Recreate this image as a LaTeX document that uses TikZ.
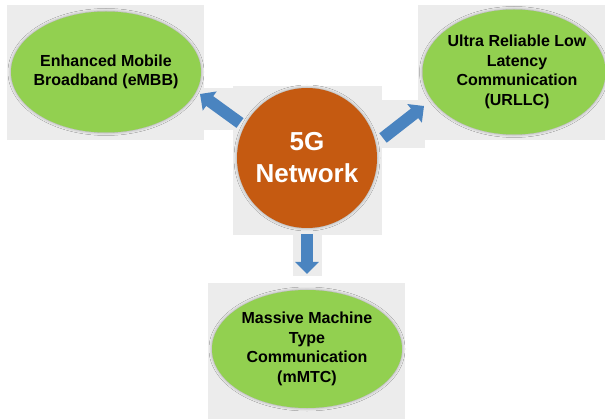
\documentclass[tikz,border=0pt]{standalone}
\usepackage{fontspec}
\setmainfont{Liberation Sans}
\usetikzlibrary{shapes.geometric,arrows.meta,shadows.blur}
\definecolor{leaf}{HTML}{92D050}
\definecolor{rust}{HTML}{C55A11}
\definecolor{steel}{HTML}{4A84C0}
\definecolor{panel}{HTML}{ECECEC}
\tikzset{
  panelbox/.style={fill=panel, draw=none},
  usecase/.style={ellipse, fill=leaf, draw=none, inner sep=0pt,
    blur shadow={shadow xshift=0pt, shadow yshift=0pt, shadow blur radius=3pt, shadow opacity=35}},
  caselabel/.style={align=center, text=black, inner sep=0pt,
    font=\bfseries\fontsize{16}{19.5}\selectfont},
  hub/.style={circle, fill=rust, draw=none, align=center, text=white,
    font=\bfseries\fontsize{26}{32}\selectfont, inner sep=0pt, minimum size=140pt,
    blur shadow={shadow xshift=0pt, shadow yshift=0pt, shadow blur radius=3pt, shadow opacity=35}},
  flow/.style={line width=12pt, draw=steel, -{Triangle[length=12pt,width=23pt]}}
}
\begin{document}
\begin{tikzpicture}[x=1pt,y=-1pt]
\useasboundingbox (0,0) rectangle (605,419);
\fill[white] (0,0) rectangle (605,419);
% panels
\fill[panelbox] (7,5) rectangle (204,140);
\fill[panelbox] (418,5) rectangle (605,140);
\fill[panelbox] (208,283) rectangle (405,419);
\fill[panelbox] (233,86) rectangle (382,235);
\fill[panelbox] (198,88) rectangle (245,130);
\fill[panelbox] (377,100) rectangle (425,148);
\fill[panelbox] (293,232) rectangle (322,276);
% nodes
\node[usecase, minimum width=190pt, minimum height=121pt] (embb) at (106,72) {};
\node[caselabel] (embbt) at (embb.center) {Enhanced Mobile\\Broadband (eMBB)};
\node[usecase, minimum width=183pt, minimum height=125pt] (urllc) at (514,72) {};
\node[caselabel] (urllct) at ([xshift=3pt]urllc.center) {Ultra Reliable Low\\Latency\\Communication\\(URLLC)};
\node[usecase, minimum width=190pt, minimum height=118pt] (mmtc) at (307,349) {};
\node[caselabel] (mmtct) at (mmtc.center) {Massive Machine\\Type\\Communication\\(mMTC)};
\node[hub] (net) at (307,158) {5G\\Network};
% arrows
\coordinate (la1) at (240,123);
\coordinate (la2) at (200,94);
\coordinate (ra1) at (383,138);
\coordinate (ra2) at (424,106);
\coordinate (da1) at (307,234);
\coordinate (da2) at (307,274);
\draw[flow] (la1) -- (la2);
\draw[flow] (ra1) -- (ra2);
\draw[flow] (da1) -- (da2);
\end{tikzpicture}
\end{document}
